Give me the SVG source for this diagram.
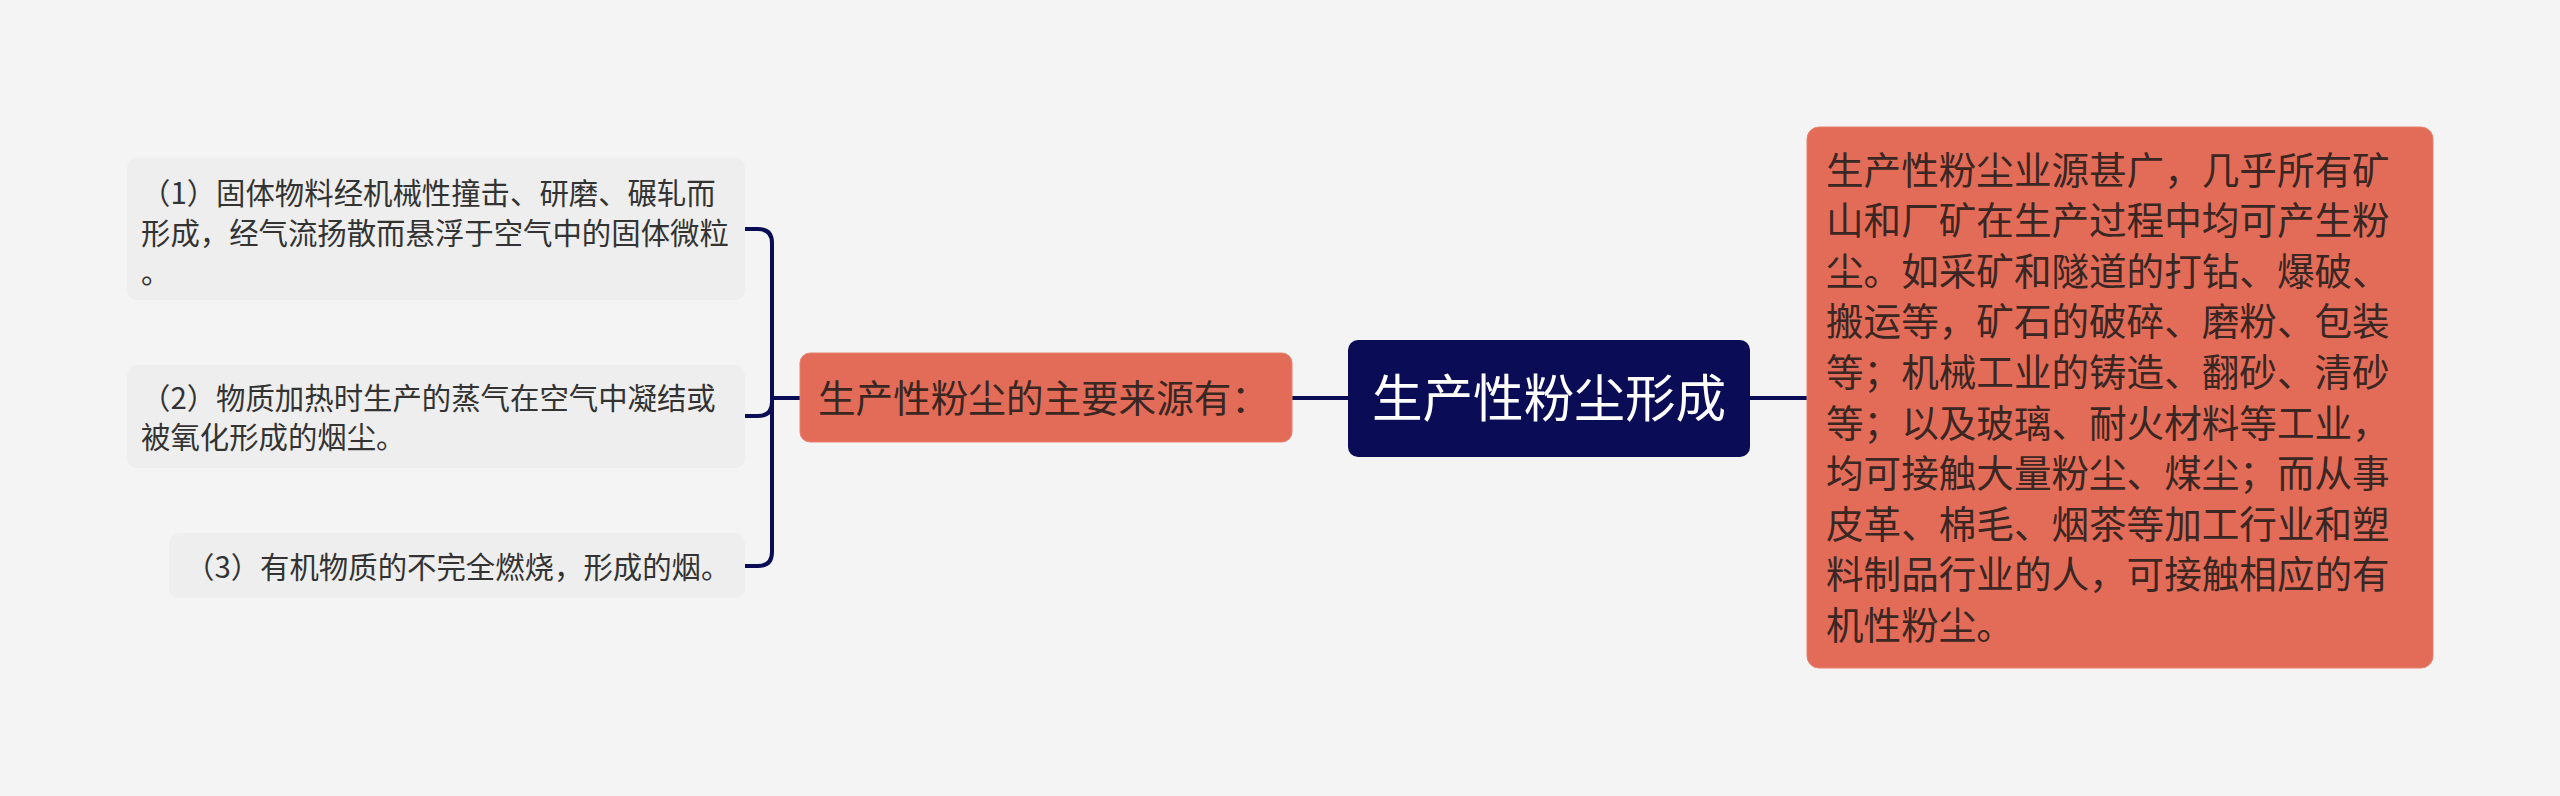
<svg xmlns="http://www.w3.org/2000/svg" width="2560" height="796" viewBox="0 0 2560 796">
  <style>
    .leaf rect { fill: #eeeeee; }
    .leaf text { font-family: "Noto Sans CJK SC", "Noto Sans", sans-serif; font-size: 29.4px; fill: #333333; }
    .orange rect { fill: #e36c58; stroke: #e8806e; stroke-width: 1; }
    .orange text { font-family: "Noto Sans CJK SC", "Noto Sans", sans-serif; font-size: 37.6px; fill: #3a2622; }
    .root rect { fill: #0a0d55; }
    .root text { font-family: "Noto Sans CJK SC", "Noto Sans", sans-serif; font-size: 50.6px; fill: #ffffff; }
    .conn path { fill: none; stroke: #0a0d55; stroke-width: 4; }
  </style>
  <rect x="0" y="0" width="2560" height="796" fill="#f4f4f4"/>

  <g id="connectors" class="conn">
    <path d="M800 398 H772"/>
    <path d="M772 398 V243 Q772 229 758 229 H745"/>
    <path d="M772 398 V402 Q772 416 758 416 H745"/>
    <path d="M772 398 V552 Q772 566 758 566 H745"/>
    <path d="M1292 398 H1348"/>
    <path d="M1750 398 H1807"/>
  </g>

  <g id="node-root" class="root">
    <rect x="1348" y="340" width="402" height="117" rx="10"/>
    <text x="1549" y="416.5" text-anchor="middle">生产性粉尘形成</text>
  </g>

  <g id="node-sources" class="orange">
    <rect x="800" y="353" width="492" height="89" rx="10"/>
    <text x="818" y="411.5">生产性粉尘的主要来源有：</text>
  </g>

  <g id="node-item1" class="leaf">
    <rect x="127" y="158" width="618" height="142" rx="10"/>
    <text x="141" y="204">（1）固体物料经机械性撞击、研磨、碾轧而</text>
    <text x="141" y="243.5">形成，经气流扬散而悬浮于空气中的固体微粒</text>
    <text x="141" y="283">。</text>
  </g>

  <g id="node-item2" class="leaf">
    <rect x="127" y="365" width="618" height="103" rx="10"/>
    <text x="141" y="409">（2）物质加热时生产的蒸气在空气中凝结或</text>
    <text x="141" y="448">被氧化形成的烟尘。</text>
  </g>

  <g id="node-item3" class="leaf">
    <rect x="169" y="533" width="576" height="65" rx="10"/>
    <text x="185" y="577.5">（3）有机物质的不完全燃烧，形成的烟。</text>
  </g>

  <g id="node-detail" class="orange">
    <rect x="1807" y="127" width="626" height="541" rx="12"/>
    <text x="1826" y="183.5">生产性粉尘业源甚广，几乎所有矿</text>
    <text x="1826" y="234.1">山和厂矿在生产过程中均可产生粉</text>
    <text x="1826" y="284.7">尘。如采矿和隧道的打钻、爆破、</text>
    <text x="1826" y="335.3">搬运等，矿石的破碎、磨粉、包装</text>
    <text x="1826" y="385.9">等；机械工业的铸造、翻砂、清砂</text>
    <text x="1826" y="436.5">等；以及玻璃、耐火材料等工业，</text>
    <text x="1826" y="487.1">均可接触大量粉尘、煤尘；而从事</text>
    <text x="1826" y="537.7">皮革、棉毛、烟茶等加工行业和塑</text>
    <text x="1826" y="588.3">料制品行业的人，可接触相应的有</text>
    <text x="1826" y="638.9">机性粉尘。</text>
  </g>
</svg>
